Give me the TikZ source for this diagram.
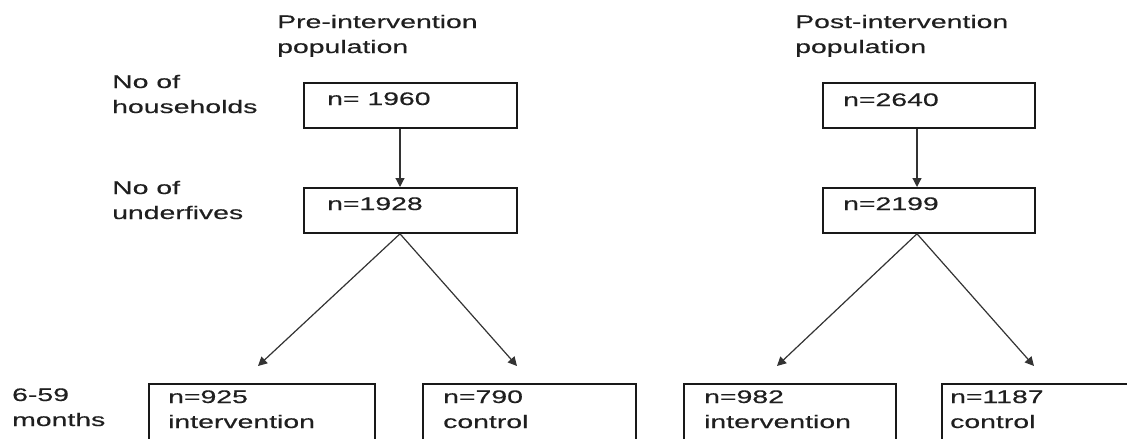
\documentclass[tikz,border=0pt]{standalone}
\usepackage{fontspec}
\setmainfont{Liberation Sans}[FakeStretch=1.56,FakeBold=0.4]
\usetikzlibrary{arrows.meta}
\begin{document}
\begin{tikzpicture}[x=1pt,y=-1pt,
  txt/.style={anchor=base west,inner sep=0pt,align=left,text=black!88,
    font=\fontsize{18.2}{25}\selectfont},
  box/.style={draw=black!90,line width=1.8pt,rectangle,inner sep=0pt,anchor=north west},
  arr/.style={draw=black!80,line width=1.2pt,-{Triangle[length=9pt,width=9pt]}}]
\useasboundingbox (0,0) rectangle (1127,439);
\clip (0,0) rectangle (1127,439);
% boxes
\node[box,minimum width=213,minimum height=45] (pre1) at (303,82) {};
\node[box,minimum width=213,minimum height=45] (pre2) at (303,187) {};
\node[box,minimum width=212,minimum height=45] (post1) at (822,82) {};
\node[box,minimum width=212,minimum height=45] (post2) at (822,187) {};
\node[box,minimum width=226,minimum height=90] (preI) at (148,383) {};
\node[box,minimum width=213,minimum height=90] (preC) at (422,383) {};
\node[box,minimum width=212,minimum height=90] (postI) at (683,383) {};
\node[box,minimum width=220,minimum height=90] (postC) at (941,383) {};
% texts (two-line nodes: base = baseline of the last line)
\node[txt] (tpre) at (277,53) {Pre-intervention\\population};
\node[txt] (tpost) at (795,53) {Post-intervention\\population};
\node[txt] (thh) at (112,113) {No of\\households};
\node[txt] (tuf) at (112,219) {No of\\underfives};
\node[txt] (tmo) at (12,426) {6-59\\months};
\node[txt] (n1) at (327,105) {n= 1960};
\node[txt] (n2) at (327,210) {n=1928};
\node[txt] (n3) at (843,106) {n=2640};
\node[txt] (n4) at (843,210) {n=2199};
\node[txt] (n5) at (168,428) {n=925\\intervention};
\node[txt] (n6) at (443,428) {n=790\\control};
\node[txt] (n7) at (704,428) {n=982\\intervention};
\node[txt] (n8) at (950,428) {n=1187\\control};
% connector anchors
\coordinate (pax) at (400,0);
\coordinate (qax) at (917,0);
\coordinate (pL) at (258,366);
\coordinate (pR) at (517,366);
\coordinate (qL) at (777,366);
\coordinate (qR) at (1034,366);
\draw[arr] (pre1.south -| pax) -- (pre2.north -| pax);
\draw[arr] (post1.south -| qax) -- (post2.north -| qax);
\draw[arr] (pre2.south -| pax) -- (pL);
\draw[arr] (pre2.south -| pax) -- (pR);
\draw[arr] (post2.south -| qax) -- (qL);
\draw[arr] (post2.south -| qax) -- (qR);
\end{tikzpicture}
\end{document}
